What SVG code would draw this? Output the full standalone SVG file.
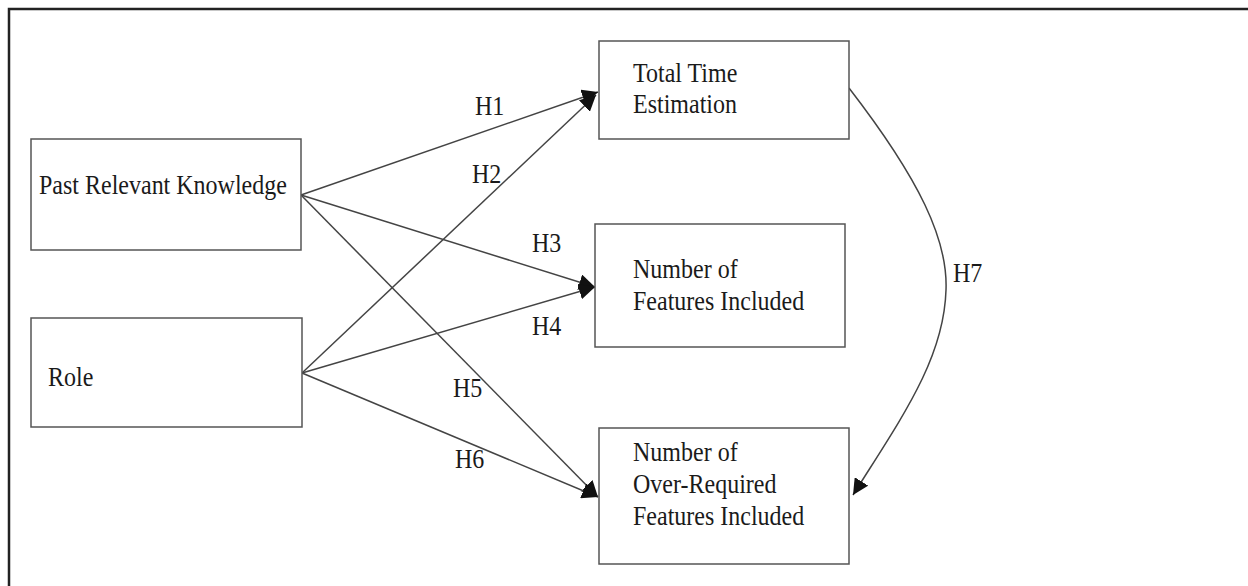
<svg xmlns="http://www.w3.org/2000/svg" width="1248" height="586" viewBox="0 0 1248 586">
<style>
.box{fill:#fff;stroke:#555;stroke-width:1.5}
.t{font-family:"Liberation Serif",serif;font-size:24px;fill:#1a1a1a}
.c{fill:none;stroke:#444;stroke-width:1.5}
.frame{fill:none;stroke:#222;stroke-width:2.5}
</style>
<defs>
<marker id="ah" markerUnits="userSpaceOnUse" markerWidth="18" markerHeight="16" refX="16" refY="8" orient="auto">
<path d="M0,0 L16,8 L0,16 Z" fill="#111"/>
</marker>
</defs>
<rect width="1248" height="586" fill="#fff"/>
<path class="frame" d="M9,586 L9,9 L1248,9"/>
<g id="connectors">
<line class="c" x1="301" y1="195" x2="598" y2="92" marker-end="url(#ah)"/>
<line class="c" x1="302" y1="373" x2="596" y2="95" marker-end="url(#ah)"/>
<line class="c" x1="301" y1="195" x2="595" y2="287" marker-end="url(#ah)"/>
<line class="c" x1="302" y1="373" x2="595" y2="287" marker-end="url(#ah)"/>
<line class="c" x1="301" y1="195" x2="598" y2="497" marker-end="url(#ah)"/>
<line class="c" x1="302" y1="373" x2="598" y2="497" marker-end="url(#ah)"/>
<path class="c" d="M849,88 C920,180 948,240 946,290 C944,360 900,420 853,495" marker-end="url(#ah)"/>
<text class="t" transform="translate(475,115) scale(1,1.15)">H1</text>
<text class="t" transform="translate(472,183) scale(1,1.15)">H2</text>
<text class="t" transform="translate(532,252) scale(1,1.15)">H3</text>
<text class="t" transform="translate(532,335) scale(1,1.15)">H4</text>
<text class="t" transform="translate(453,397) scale(1,1.15)">H5</text>
<text class="t" transform="translate(455,468) scale(1,1.15)">H6</text>
<text class="t" transform="translate(953,282) scale(1,1.15)">H7</text>
</g>
<g id="past-knowledge">
<rect class="box" x="31" y="139" width="270" height="111"/>
<text class="t" transform="translate(39,194) scale(1,1.15)">Past Relevant Knowledge</text>
</g>
<g id="role">
<rect class="box" x="31" y="318" width="271" height="109"/>
<text class="t" transform="translate(48,386) scale(1,1.15)">Role</text>
</g>
<g id="total-time">
<rect class="box" x="599" y="41" width="250" height="98"/>
<text class="t" transform="translate(633,82) scale(1,1.15)">Total Time</text>
<text class="t" transform="translate(633,113) scale(1,1.15)">Estimation</text>
</g>
<g id="features">
<rect class="box" x="595" y="224" width="250" height="123"/>
<text class="t" transform="translate(633,278) scale(1,1.15)">Number of</text>
<text class="t" transform="translate(633,310) scale(1,1.15)">Features Included</text>
</g>
<g id="over-required">
<rect class="box" x="599" y="428" width="250" height="136"/>
<text class="t" transform="translate(633,461) scale(1,1.15)">Number of</text>
<text class="t" transform="translate(633,493) scale(1,1.15)">Over-Required</text>
<text class="t" transform="translate(633,525) scale(1,1.15)">Features Included</text>
</g>
</svg>
